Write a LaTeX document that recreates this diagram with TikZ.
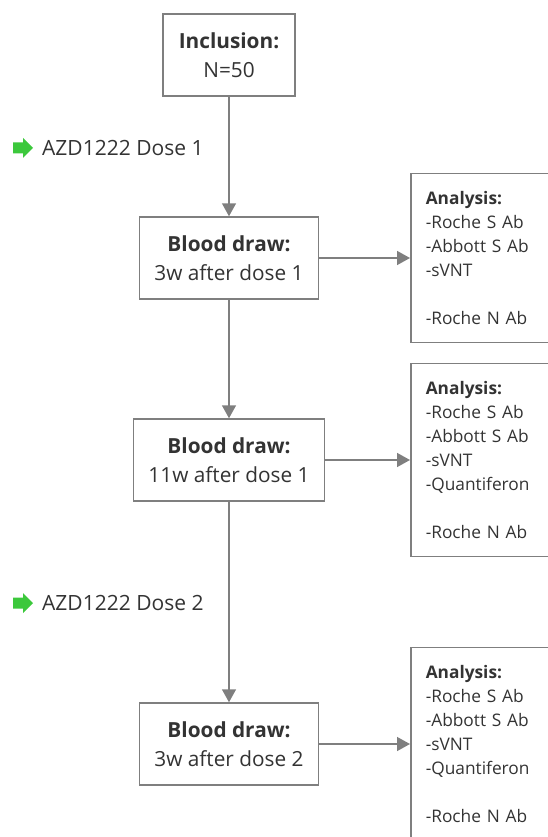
\documentclass[tikz,border=0pt]{standalone}
\usepackage{fontspec}
\setmainfont{Open Sans}
\usetikzlibrary{arrows.meta,positioning,calc}

\definecolor{linegrey}{HTML}{7F7F7F}
\definecolor{txtgrey}{HTML}{333333}
\definecolor{dosegreen}{HTML}{3CC83C}

\begin{document}
\begin{tikzpicture}[x=1pt,y=-1pt,
  box/.style={draw=linegrey, line width=1.5pt, fill=white, text=txtgrey, align=center,
    minimum height=82pt, inner xsep=15pt, font=\fontsize{20.8}{29}\selectfont},
  analysis/.style={draw=linegrey, line width=1.5pt, text=txtgrey, align=left, anchor=west,
    text width=150pt, inner xsep=15pt, inner ysep=18pt, font=\fontsize{17.3}{24}\selectfont},
  flow/.style={draw=linegrey, line width=1.5pt, -{Triangle[length=13pt,width=14pt]}},
  dose/.style={text=txtgrey, anchor=west, inner sep=0pt, font=\fontsize{21}{24}\selectfont}]
\useasboundingbox (0,0) rectangle (547,837);

\node[box, minimum width=132pt, name=incl] at (229,55) {\textbf{Inclusion:}\\N=50};

\node[box, name=bd1] at (229,258) {\textbf{Blood draw:}\\3w after dose 1};
\node[box, name=bd2] at (229,460) {\textbf{Blood draw:}\\11w after dose 1};
\node[box, name=bd3] at (229,744) {\textbf{Blood draw:}\\3w after dose 2};

\node[analysis, name=an1] at (410,258) {\textbf{Analysis:}\\-Roche S Ab\\-Abbott S Ab\\-sVNT\\[24pt]-Roche N Ab};
\node[analysis, name=an2] at (410,460) {\textbf{Analysis:}\\-Roche S Ab\\-Abbott S Ab\\-sVNT\\-Quantiferon\\[24pt]-Roche N Ab};
\node[analysis, name=an3] at (410,744) {\textbf{Analysis:}\\-Roche S Ab\\-Abbott S Ab\\-sVNT\\-Quantiferon\\[24pt]-Roche N Ab};

% dose markers
\node[dose, name=dose1] at (42,148) {AZD1222 Dose 1};
\node[dose, name=dose2] at (42,603) {AZD1222 Dose 2};
\foreach \d in {dose1,dose2}
  \fill[dosegreen] ($(\d.west)+(-29,-5.5)$) -- ++(10,0) -- ++(0,-4.5) -- ++(10,10) -- ++(-10,10)
    -- ++(0,-4.5) -- ++(-10,0) -- cycle;

\draw[flow] (incl) -- (bd1);
\draw[flow] (bd1) -- (bd2);
\draw[flow] (bd2) -- (bd3);

\draw[flow] (bd1) -- (an1);
\draw[flow] (bd2) -- (an2);
\draw[flow] (bd3) -- (an3);
\end{tikzpicture}
\end{document}
